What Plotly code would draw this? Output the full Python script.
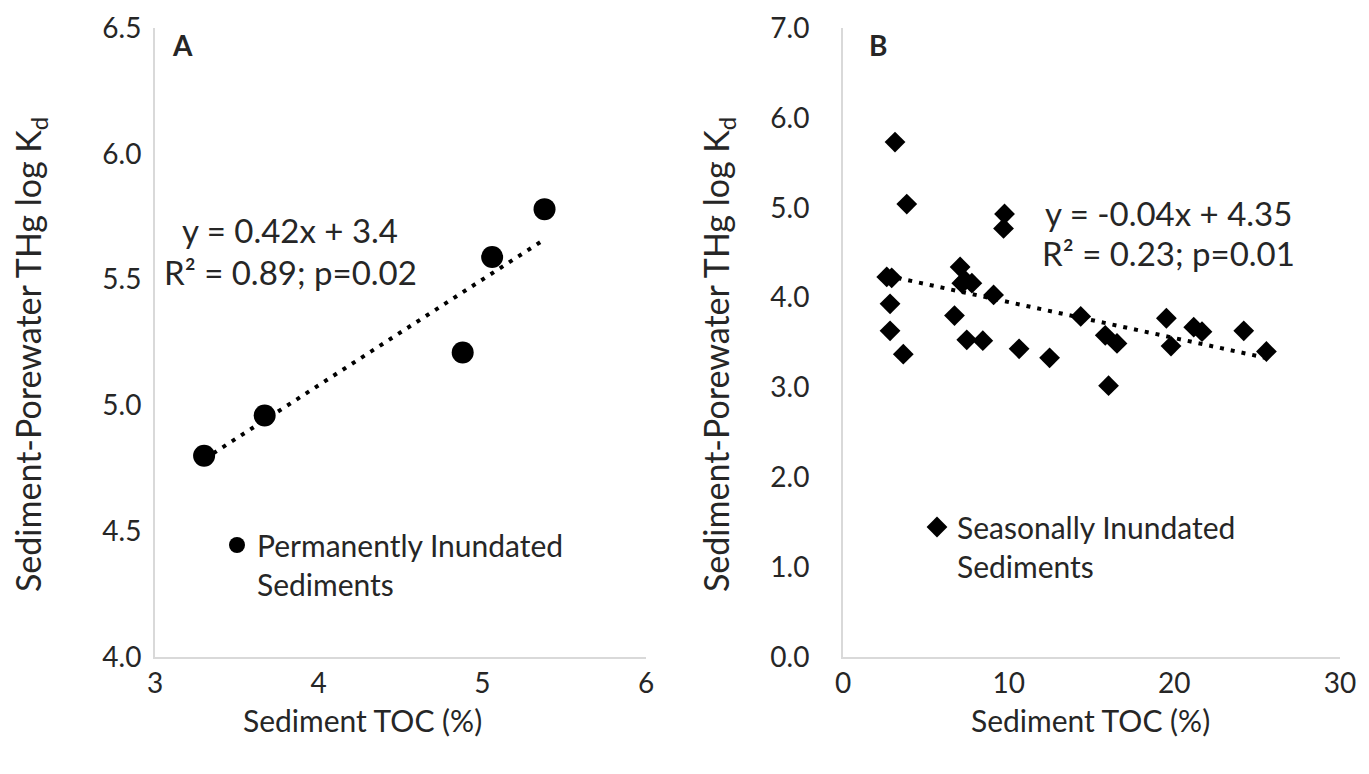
import plotly.graph_objects as go

W, H = 1369, 774

# ---- data ----
perm_toc = [3.30, 3.67, 4.88, 5.06, 5.38]
perm_kd = [4.80, 4.96, 5.21, 5.59, 5.78]

seas_toc = [3.14, 3.85, 9.75, 9.69, 2.64, 2.94, 7.07, 7.37, 7.78, 7.17,
            9.09, 2.84, 6.73, 2.84, 3.64, 7.47, 8.44, 10.63, 12.47, 14.35,
            15.83, 16.54, 16.03, 19.52, 19.80, 21.17, 21.67, 24.19, 25.56]
seas_kd = [5.73, 5.04, 4.93, 4.77, 4.23, 4.22, 4.34, 4.19, 4.16, 4.16,
           4.03, 3.93, 3.80, 3.63, 3.37, 3.53, 3.52, 3.43, 3.33, 3.79,
           3.58, 3.49, 3.02, 3.77, 3.46, 3.67, 3.62, 3.63, 3.40]

fit_a = {"slope": 0.42, "intercept": 3.4}
fit_b = {"slope": -0.04, "intercept": 4.35}

eq_a = ["y = 0.42x + 3.4", "R² = 0.89; p=0.02"]
eq_b = ["y = -0.04x + 4.35", "R² = 0.23; p=0.01"]

name_a = "Permanently Inundated<br>Sediments"
name_b = "Seasonally Inundated<br>Sediments"

x_title = "Sediment TOC (%)"
y_title = "Sediment-Porewater THg log K<sub>d</sub>"

FONT = "Lato"
TXT = "#262626"
AX = "#d9d9d9"


def fx(p):
    return p / W


def fy(p):
    return 1 - p / H


def trend(xs, fit):
    x0, x1 = min(xs), max(xs)
    return [x0, x1], [fit["slope"] * x0 + fit["intercept"], fit["slope"] * x1 + fit["intercept"]]


fig = go.Figure()

fig.add_trace(go.Scatter(x=perm_toc, y=perm_kd, mode="markers", name=name_a,
                         marker=dict(symbol="circle", size=22, color="black"),
                         xaxis="x", yaxis="y", legend="legend"))
tx, ty = trend(perm_toc, fit_a)
fig.add_trace(go.Scatter(x=tx, y=ty, mode="lines", showlegend=False,
                         line=dict(color="black", width=4, dash="4px,7px"),
                         xaxis="x", yaxis="y"))

fig.add_trace(go.Scatter(x=seas_toc, y=seas_kd, mode="markers", name=name_b,
                         marker=dict(symbol="diamond", size=16, color="black"),
                         xaxis="x2", yaxis="y2", legend="legend2"))
tx, ty = trend(seas_toc, fit_b)
fig.add_trace(go.Scatter(x=tx, y=ty, mode="lines", showlegend=False,
                         line=dict(color="black", width=4, dash="4px,7px"),
                         xaxis="x2", yaxis="y2"))

axis_common = dict(showgrid=False, zeroline=False, showline=True, linecolor=AX,
                   linewidth=2, ticks="", automargin=False,
                   tickfont=dict(family=FONT, size=28, color=TXT))

fig.update_layout(
    template="none",
    width=W, height=H, autosize=False,
    margin=dict(l=0, r=0, t=0, b=0, pad=0),
    paper_bgcolor="white", plot_bgcolor="white",
    font=dict(family=FONT, color=TXT),
    xaxis=dict(domain=[fx(155), fx(646)], range=[3, 6], dtick=1, tick0=0,
               anchor="y", ticklabelstandoff=0, **axis_common),
    yaxis=dict(domain=[fy(657), fy(28)], range=[4.0, 6.5], dtick=0.5, tick0=0,
               tickformat=".1f", anchor="x", ticklabelstandoff=6, **axis_common),
    xaxis2=dict(domain=[fx(843), fx(1340)], range=[0, 30], dtick=10, tick0=0,
                anchor="y2", ticklabelstandoff=0, **axis_common),
    yaxis2=dict(domain=[fy(657), fy(28)], range=[0, 7], dtick=1, tick0=0,
                tickformat=".1f", anchor="x2", ticklabelstandoff=26, **axis_common),
    legend=dict(x=fx(217), y=fy(519), xanchor="left", yanchor="top",
                font=dict(family=FONT, size=30, color=TXT), valign="top",
                bgcolor="rgba(0,0,0,0)", itemsizing="trace", borderwidth=0),
    legend2=dict(x=fx(917), y=fy(501), xanchor="left", yanchor="top",
                 font=dict(family=FONT, size=30, color=TXT), valign="top",
                 bgcolor="rgba(0,0,0,0)", itemsizing="trace", borderwidth=0),
)

ann = []
def add(text, x, y, size=30, bold=False, angle=0, xanchor="center"):
    t = f"<b>{text}</b>" if bold else text
    ann.append(dict(text=t, x=fx(x), y=fy(y), xref="paper", yref="paper",
                    showarrow=False, textangle=angle, xanchor=xanchor, yanchor="middle",
                    font=dict(family=FONT, size=size, color=TXT)))

add("A", 182, 45, size=28, bold=True)
add("B", 878, 45, size=28, bold=True)
add(eq_a[0], 290, 230, size=33)
add(eq_a[1], 290, 272, size=33)
add(eq_b[0], 1168, 213, size=33)
add(eq_b[1], 1168, 253, size=33)
add(x_title, 362, 720)
add(x_title, 1090, 720)
add(y_title, 30, 355, size=34, angle=-90)
add(y_title, 718, 355, size=34, angle=-90)
fig.update_layout(annotations=ann)

fig.write_html("out.html")
